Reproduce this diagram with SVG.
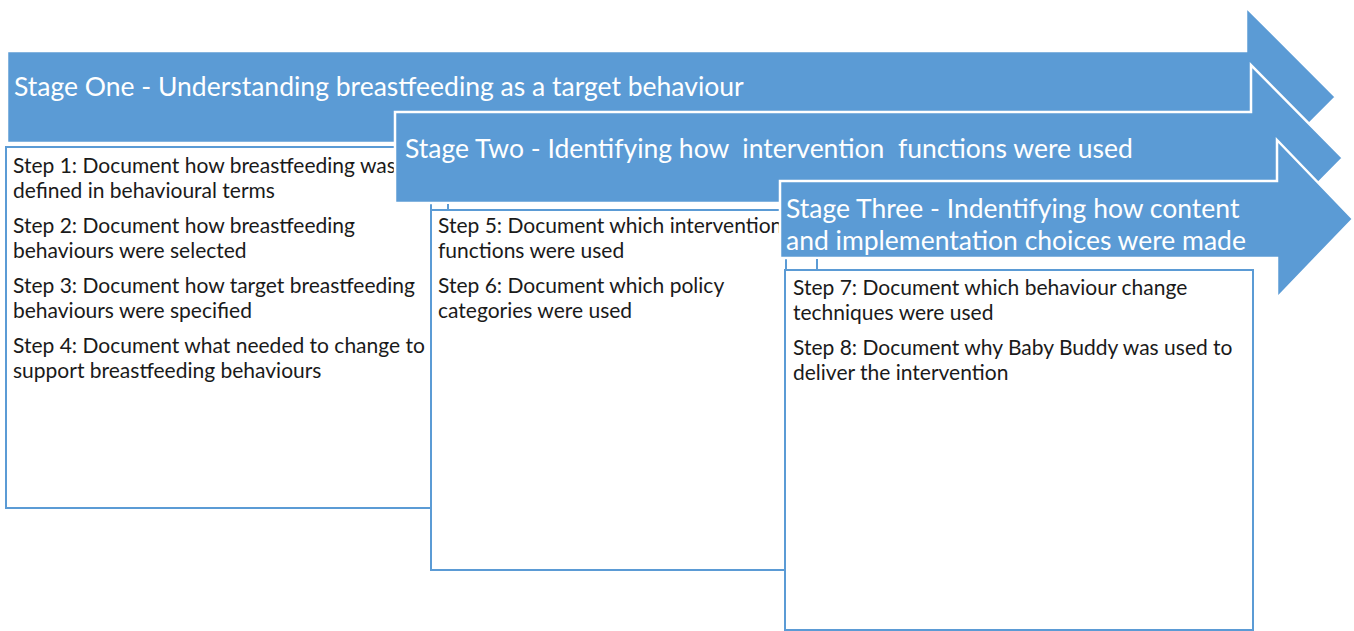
<svg xmlns="http://www.w3.org/2000/svg" width="1354" height="631" viewBox="0 0 1354 631">
  <style>
    .arrow { fill: #5B9BD5; stroke: #FFFFFF; stroke-width: 2.5; stroke-linejoin: miter; }
    .box { fill: #FFFFFF; stroke: #5B9BD5; stroke-width: 2; }
    .head { font-family: Lato, "Open Sans", sans-serif; font-size: 26.5px; fill: #FFFFFF; white-space: pre; }
    .step { font-family: Lato, "Open Sans", sans-serif; font-size: 21px; fill: #1A1A1A; }
    .tick { stroke: #5B9BD5; stroke-width: 2; fill: none; }
  </style>
  <rect width="1354" height="631" fill="#FFFFFF"/>

  <!-- Stage one: arrow and its steps -->
  <g id="stage-one">
    <polygon class="arrow" points="7,51 1246,51 1246,7 1336,97 1246,187 1246,143 7,143"/>
    <text class="head" x="14" y="96">Stage One - Understanding breastfeeding as a target behaviour</text>
  </g>
  <g id="steps-one">
    <rect class="box" x="6" y="147" width="425" height="361"/>
    <text class="step" x="13" y="173">Step 1: Document how breastfeeding was</text>
    <text class="step" x="13" y="198">defined in behavioural terms</text>
    <text class="step" x="13" y="233">Step 2: Document how breastfeeding</text>
    <text class="step" x="13" y="258">behaviours were selected</text>
    <text class="step" x="13" y="293">Step 3: Document how target breastfeeding</text>
    <text class="step" x="13" y="318">behaviours were specified</text>
    <text class="step" x="13" y="353">Step 4: Document what needed to change to</text>
    <text class="step" x="13" y="378">support breastfeeding behaviours</text>
  </g>

  <!-- Stage two -->
  <g id="stage-two">
    <polygon class="arrow" points="395,112 1251,112 1251,65 1343,158 1251,251 1251,203 395,203"/>
    <text class="head" x="405" y="158">Stage Two - Identifying how  intervention  functions were used</text>
  </g>
  <g id="steps-two">
    <rect class="box" x="431" y="210" width="355" height="360"/>
    <text class="step" x="438" y="233">Step 5: Document which intervention</text>
    <text class="step" x="438" y="258">functions were used</text>
    <text class="step" x="438" y="293">Step 6: Document which policy</text>
    <text class="step" x="438" y="318">categories were used</text>
  </g>

  <!-- Stage three -->
  <g id="stage-three">
    <polygon class="arrow" points="780,181 1277,181 1277,140 1353,219 1277,298 1277,258 780,258"/>
    <text class="head" x="786" y="218">Stage Three - Indentifying how content</text>
    <text class="head" x="786" y="250">and implementation choices were made</text>
  </g>
  <g id="steps-three">
    <rect class="box" x="785" y="270" width="468" height="360"/>
    <text class="step" x="793" y="295">Step 7: Document which behaviour change</text>
    <text class="step" x="793" y="320">techniques were used</text>
    <text class="step" x="793" y="355">Step 8: Document why Baby Buddy was used to</text>
    <text class="step" x="793" y="380">deliver the intervention</text>
  </g>

  <!-- short links from each stage arrow down to its step box -->
  <g id="connectors">
    <line class="tick" x1="448" y1="204" x2="448" y2="210"/>
    <line class="tick" x1="817" y1="259" x2="817" y2="270"/>
  </g>
</svg>
